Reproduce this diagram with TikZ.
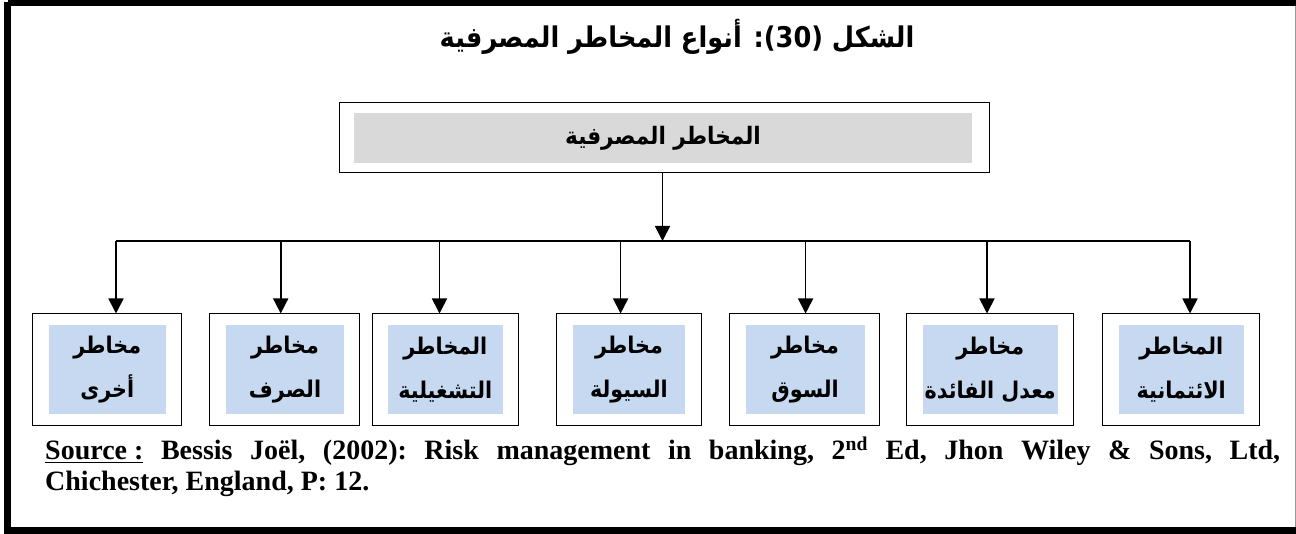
\documentclass[tikz,border=0pt]{standalone}
\usepackage{fontspec}
\setmainfont{Liberation Serif}
\newfontfamily\arabicfont[Script=Arabic]{DejaVu Sans Condensed}
\TeXXeTstate=1
\usetikzlibrary{arrows.meta}

\definecolor{hdrgray}{RGB}{217,217,217}
\definecolor{catblue}{RGB}{198,217,241}
\definecolor{edgegray}{RGB}{150,150,150}

\tikzset{
  framebar/.style={fill=black, draw=none},
  outerbox/.style={draw=black, line width=1pt, fill=white, inner sep=0pt},
  hdrbox/.style={fill=hdrgray, draw=none, inner sep=0pt,
    font=\arabicfont\bfseries\fontsize{24}{28}\selectfont},
  catbox/.style={fill=catblue, draw=none, inner sep=0pt, align=center,
    font=\arabicfont\bfseries\fontsize{23}{44}\selectfont},
  link/.style={line width=1.6pt},
  arrowlink/.style={line width=1.7pt, -{Triangle[length=15pt,width=15pt]}},
}

% one category box: name, outer x-range, inner x-range, label
\newcommand\riskbox[6]{%
  \node[outerbox, minimum width={#3-#2}, minimum height=112pt]
    (o#1) at ({(#2+#3)/2},370) {};
  \node[catbox, minimum width={#5-#4}, minimum height=89pt]
    (c#1) at ({(#4+#5)/2},369.5) {#6};
}

\begin{document}
\begin{tikzpicture}[x=1pt, y=-1pt]
  \useasboundingbox (0,0) rectangle (1296,534);

  % page frame
  \fill[framebar] (8,0) rectangle (1296,6.5);
  \fill[framebar] (4,2) rectangle (11,530);
  \fill[framebar] (4,527) rectangle (1296,534);
  \draw[edgegray, line width=1pt] (1295.5,6.5) -- (1295.5,527);

  % title
  \node (title) at (677,37)
    {\arabicfont\bfseries\fontsize{28.5}{32}\selectfont
     \beginR الشكل (30): أنواع المخاطر المصرفية\endR};

  % root box
  \node[outerbox, minimum width=650pt, minimum height=70pt] (root) at (664,138) {};
  \node[hdrbox, minimum width=618pt, minimum height=50pt] (rootlbl) at (663,138)
    {\beginR المخاطر المصرفية\endR};

  % category boxes
  \riskbox{1}{32}{181}{48.5}{166}{\beginR مخاطر\endR\\\beginR أخرى\endR}
  \riskbox{2}{209}{359}{226}{344}{\beginR مخاطر\endR\\\beginR الصرف\endR}
  \riskbox{3}{372}{518}{388}{502.5}{\beginR المخاطر\endR\\\beginR التشغيلية\endR}
  \riskbox{4}{556}{701}{573}{685}{\beginR مخاطر\endR\\\beginR السيولة\endR}
  \riskbox{5}{729}{879}{745.5}{864.5}{\beginR مخاطر\endR\\\beginR السوق\endR}
  \riskbox{6}{906}{1073}{922.5}{1058}{\beginR مخاطر\endR\\\beginR معدل الفائدة\endR}
  \riskbox{7}{1102}{1259.5}{1118.5}{1244}{\beginR المخاطر\endR\\\beginR الائتمانية\endR}

  % distribution bus
  \coordinate (bus) at (662.5,241);
  \coordinate (d1) at (116,241);
  \coordinate (d2) at (280.7,241);
  \coordinate (d3) at (439.5,241);
  \coordinate (d4) at (620.6,241);
  \coordinate (d5) at (805.6,241);
  \coordinate (d6) at (987,241);
  \coordinate (d7) at (1190,241);

  \draw[arrowlink] (root.south -| bus) -- (bus);
  \draw[link] (d1) -- (d7);
  \foreach \i in {1,...,7}
    \draw[arrowlink] (d\i) -- (d\i |- o\i.north);

  % source note
  \node[anchor=base west, inner sep=0pt, font=\bfseries\fontsize{28}{30}\selectfont]
    (src1) at (45,460)
    {\frenchspacing\makebox[1235pt][s]{\underline{Source :} Bessis Joël, (2002): Risk management in banking, 2\textsuperscript{nd} Ed, Jhon Wiley \& Sons, Ltd,}};
  \node[anchor=base west, inner sep=0pt, font=\bfseries\fontsize{28}{30}\selectfont]
    (src2) at (45,490) {\frenchspacing Chichester, England, P: 12.};
\end{tikzpicture}
\end{document}
